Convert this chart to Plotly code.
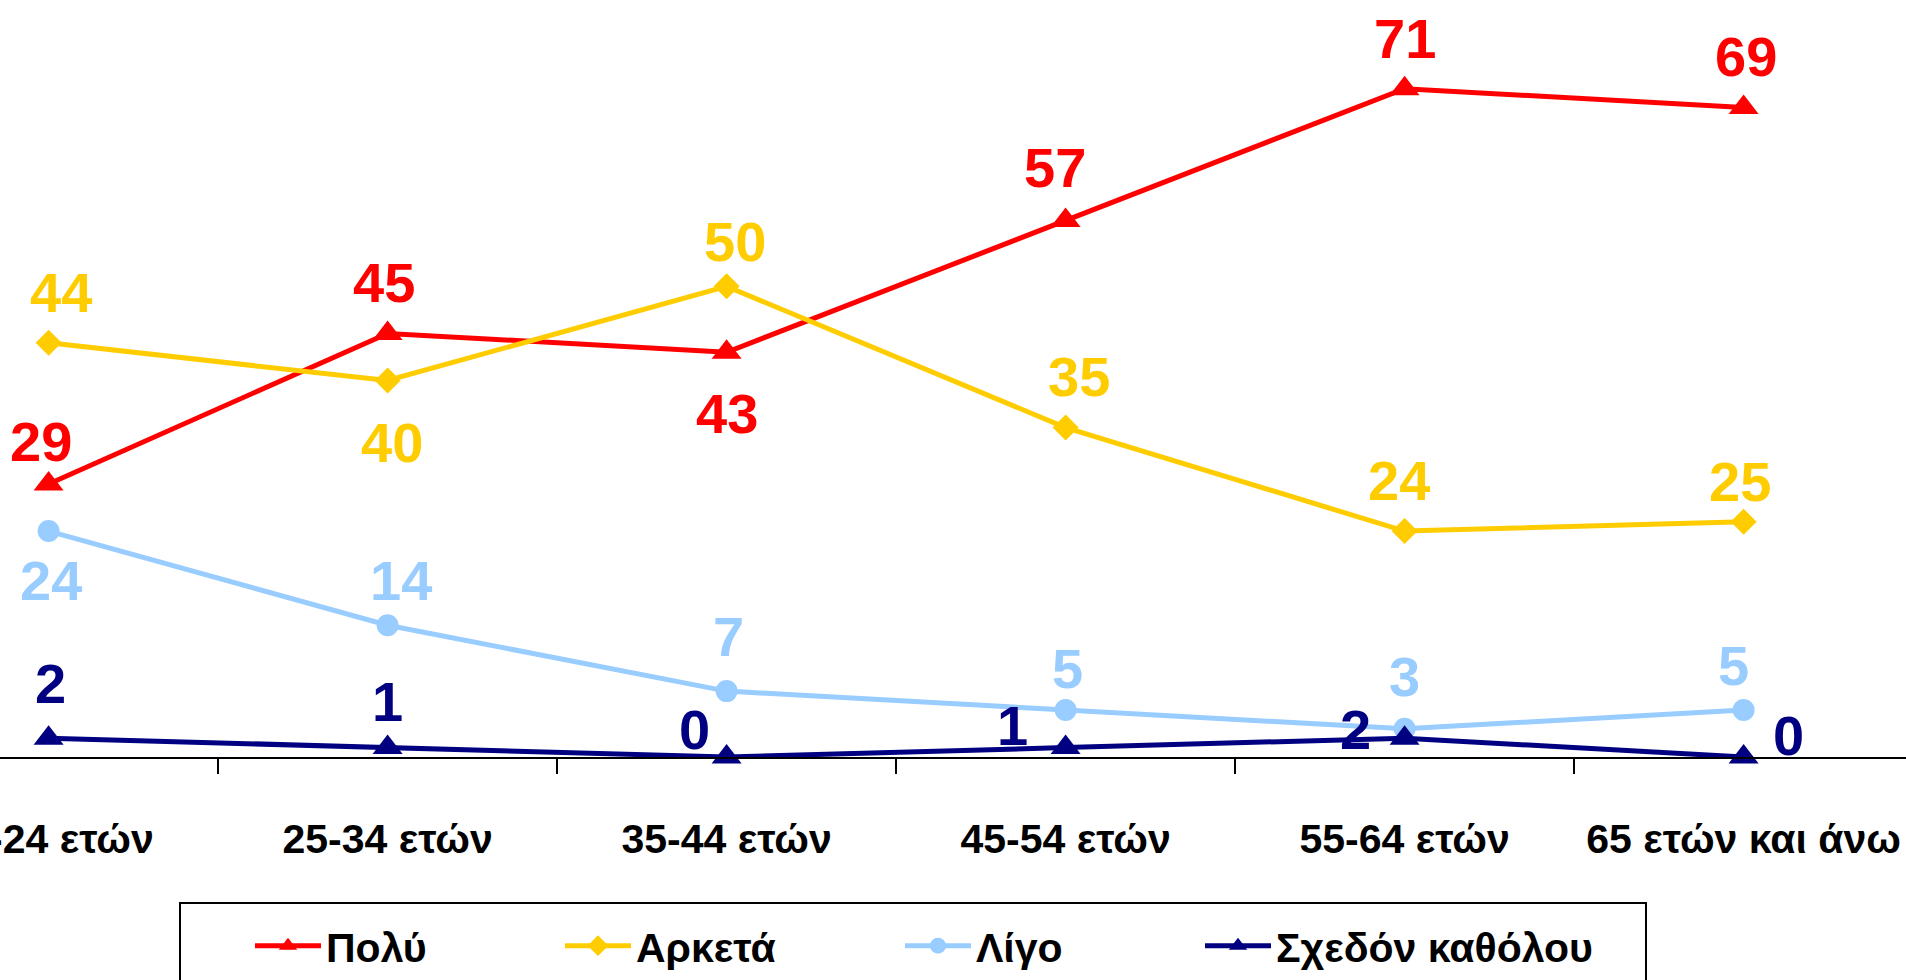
import plotly.graph_objects as go

# ---- data ----
categories = ["18-24 ετών", "25-34 ετών", "35-44 ετών", "45-54 ετών", "55-64 ετών", "65 ετών και άνω"]
series_names = ["Πολύ", "Αρκετά", "Λίγο", "Σχεδόν καθόλου"]
poly = [29, 45, 43, 57, 71, 69]
arketa = [44, 40, 50, 35, 24, 25]
ligo = [24, 14, 7, 5, 3, 5]
sxedon = [2, 1, 0, 1, 2, 0]

# ---- styles ----
colors = ["#FF0000", "#FFCC00", "#99CCFF", "#000080"]
symbols = ["triangle-up", "diamond", "circle", "triangle-up"]
msizes = [26, 20, 22, 26]
# label offsets (px) for each series point: (dx, dy) dy positive = up
offsets = [
    [(-8, 43), (-4, 51), (0, -61), (-11, 53), (0, 50), (2, 51)],
    [(12, 50), (4, -62), (8, 45), (13, 51), (-6, 51), (-4, 40)],
    [(2, -49), (13, 45), (2, 55), (2, 41), (0, 52), (-10, 44)],
    [(2, 55), (0, 46), (-32, 28), (-53, 22), (-49, 9), (45, 22)],
]
# legend item left edges in page pixels
legend_x_px = [250, 560, 900, 1200]

FONT = "Liberation Sans, Arial, sans-serif"

all_values = [poly, arketa, ligo, sxedon]

W, H = 1906, 980
PLOT_H = 757
PX_PER_UNIT = 9.413
CAT_PX = 339
CAT0_PX = 48.6

legend_ids = ["legend", "legend2", "legend3", "legend4"]

fig = go.Figure()
for name, vals, col, sym, ms, lid in zip(series_names, all_values, colors, symbols, msizes, legend_ids):
    fig.add_trace(go.Scatter(
        x=categories, y=vals, name=name, mode="lines+markers",
        line=dict(color=col, width=5),
        marker=dict(symbol=sym, size=ms, color=col),
        cliponaxis=False, legend=lid,
    ))

annotations = []
for vals, col, offs in zip(all_values, colors, offsets):
    for c, v, (dx, dy) in zip(categories, vals, offs):
        annotations.append(dict(
            x=c, y=v, xref="x", yref="y", text=str(v), showarrow=False,
            xshift=dx, yshift=dy,
            font=dict(family=FONT, size=56, color=col, weight="bold"),
        ))

legend_y = -(946 - PLOT_H) / PLOT_H
legends = {}
for lid, lx in zip(legend_ids, legend_x_px):
    legends[lid] = dict(
        orientation="h", x=lx / W, xanchor="left", y=legend_y, yanchor="middle",
        borderwidth=0, bgcolor="rgba(0,0,0,0)",
        font=dict(family=FONT, size=41, color="black", weight="bold"),
        itemwidth=66,
    )

box_left = 180 / W
box_right = 1646 / W
box_top = -(903 - PLOT_H) / PLOT_H

fig.update_layout(
    width=W, height=H,
    margin=dict(l=0, r=0, t=0, b=H - PLOT_H, autoexpand=False),
    paper_bgcolor="white", plot_bgcolor="white",
    showlegend=True,
    annotations=annotations,
    shapes=[dict(type="rect", xref="paper", yref="paper",
                 x0=box_left, x1=box_right, y0=box_top, y1=-0.5,
                 line=dict(color="black", width=2), fillcolor="rgba(0,0,0,0)",
                 layer="below")],
    xaxis=dict(
        type="category", range=[-CAT0_PX / CAT_PX, (W - CAT0_PX) / CAT_PX],
        showline=True, linecolor="black", linewidth=2,
        ticks="outside", tickson="boundaries", ticklen=15, tickwidth=2, tickcolor="black",
        showgrid=False, zeroline=False, tickangle=0,
        tickfont=dict(family=FONT, size=41, color="black", weight="bold"),
        ticklabelstandoff=45, ticklabeloverflow="allow",
    ),
    yaxis=dict(
        range=[0, PLOT_H / PX_PER_UNIT], showgrid=False, zeroline=False, showticklabels=False,
        showline=False, ticks="",
    ),
    **legends,
)

fig.write_html(
    "out.html",
    config={"displayModeBar": False},
    post_script="document.body.style.margin='0';document.body.style.overflow='hidden';",
)
